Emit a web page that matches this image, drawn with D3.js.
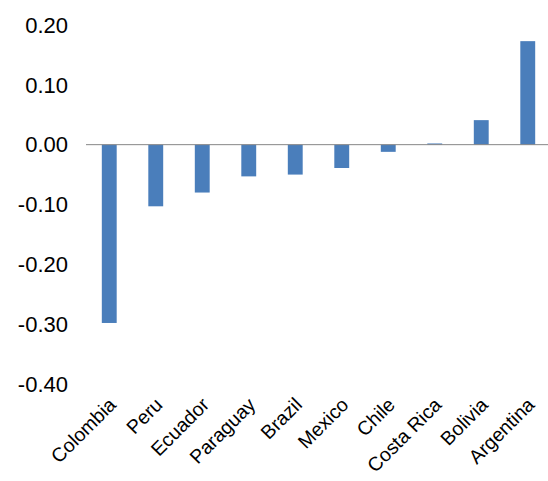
<!DOCTYPE html>
<html><head><meta charset="utf-8">
<script src="https://cdn.jsdelivr.net/npm/d3@7"></script>
<style>body{margin:0;background:#fff}</style>
</head><body>
<svg id="chart" width="548" height="481"></svg>
<script>
// data
const countries = ["Colombia", "Peru", "Ecuador", "Paraguay", "Brazil", "Mexico", "Chile", "Costa Rica", "Bolivia", "Argentina"];
const values = [-0.298, -0.103, -0.080, -0.053, -0.050, -0.039, -0.012, 0.002, 0.041, 0.173];
const yTicks = [0.2, 0.1, 0, -0.1, -0.2, -0.3, -0.4];

const svg = d3.select("#chart");
const font = "Arial, 'Liberation Sans', sans-serif";

const x = d3.scaleBand().domain(countries).range([86, 551]).paddingInner(0.68).paddingOuter(0.34);
const y = d3.scaleLinear().domain([-0.4, 0.2]).range([384, 25]);

// y labels
svg.append("g").selectAll("text")
    .data(yTicks).enter().append("text")
    .attr("x", 68).attr("y", d => y(d)).attr("dy", "0.35em")
    .attr("text-anchor", "end")
    .style("font-family", font).style("font-size", "22px").style("fill", "#000")
    .text(d => d.toFixed(2));

// bars
svg.append("g").selectAll("rect")
    .data(values).enter().append("rect")
    .attr("x", (d, i) => x(countries[i]))
    .attr("width", x.bandwidth())
    .attr("y", d => y(Math.max(0, d)))
    .attr("height", d => Math.abs(y(d) - y(0)))
    .style("fill", "#4a7ebb");

// zero line
svg.append("line")
    .attr("x1", 86).attr("x2", 551).attr("y1", y(0)).attr("y2", y(0))
    .style("stroke", "#868686").style("stroke-width", 1);

// category labels
svg.append("g").selectAll("text")
    .data(countries).enter().append("text")
    .attr("transform", d => `translate(${x(d) + x.bandwidth() / 2 + 8},${406}) rotate(-45)`)
    .attr("text-anchor", "end")
    .style("font-family", font).style("font-size", "19.5px").style("fill", "#000")
    .text(d => d);
</script>
</body></html>
